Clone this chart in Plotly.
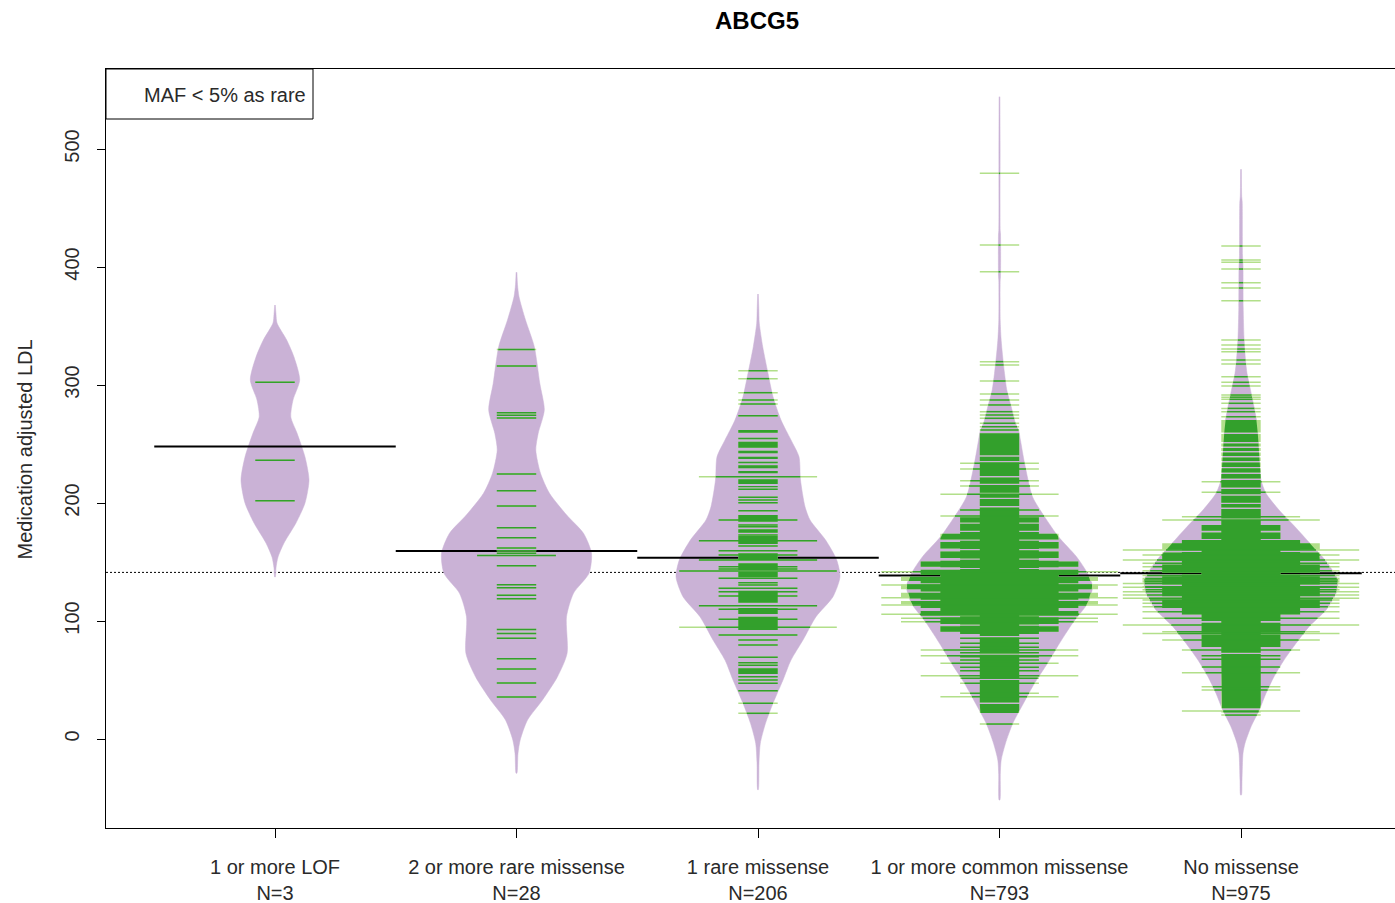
import numpy as np
import plotly.graph_objects as go

# ---------------- data ----------------
categories = ["1 or more LOF", "2 or more rare missense", "1 rare missense",
              "1 or more common missense", "No missense"]
group_sizes = [3, 28, 206, 793, 975]
avg_values = [248.0, 159.3, 153.7, 138.5, 140.5]
overall_average = 141.2
y_ticks = [0, 100, 200, 300, 400, 500]
legend_text = "MAF &lt; 5% as rare"
title_text = "ABCG5"
y_title = "Medication adjusted LDL"

# bean outlines: LDL value -> density (half width, px at chart scale)
g1_bean_y = [367.8, 360.0, 352.5, 338.1, 323.7, 304.2, 287.3, 272.9, 259.3, 239.0, 219.5, 200.0, 183.1, 166.1, 154.2, 145.0, 137.3]
g1_bean_d = [0.3, 1.0, 2.0, 11.7, 19.0, 24.7, 18.0, 15.8, 22.0, 30.0, 34.0, 30.0, 21.0, 9.0, 3.0, 1.0, 0.3]

g2_bean_y = [395.5, 385.0, 374.8, 355.1, 332.5, 301.4, 278.8, 259.1, 244.9, 225.2, 208.2, 190.0, 174.3, 157.4, 140.4, 123.5, 103.6, 72.6, 52.8, 33.1, 16.1, -0.8, -12.0, -29.0]
g2_bean_d = [0.4, 1.0, 2.5, 9.0, 17.8, 23.3, 27.8, 21.7, 19.3, 24.0, 33.0, 50.0, 67.0, 75.0, 72.5, 57.0, 50.0, 50.6, 41.0, 26.0, 11.0, 3.7, 1.5, 0.4]

g3_bean_y = [377.1, 365.0, 352.3, 332.5, 309.9, 290.1, 270.3, 253.4, 239.2, 219.5, 196.9, 185.6, 168.6, 151.7, 137.5, 120.6, 103.6, 83.9, 66.9, 50.0, 30.3, 13.3, -3.6, -20.0, -43.0]
g3_bean_d = [0.3, 0.8, 1.3, 4.7, 10.0, 15.0, 23.0, 33.0, 41.0, 42.5, 47.0, 52.0, 67.6, 78.7, 82.0, 75.0, 58.0, 45.0, 33.0, 25.0, 15.0, 7.5, 2.3, 1.0, 0.3]

g4_bean_y = [544.3, 500.0, 431.0, 428.0, 392.0, 389.0, 355.0, 340.0, 329.7, 309.9, 295.8, 281.6, 267.5, 262.0, 253.0, 234.0, 205.3, 188.4, 171.4, 154.5, 140.4, 129.1, 115.0, 98.1, 81.1, 64.2, 47.2, 30.3, 13.3, -3.6, -17.8, -30.0, -51.7]
g4_bean_d = [0.4, 0.6, 0.7, 1.0, 1.0, 0.7, 0.7, 1.5, 2.5, 5.0, 7.3, 11.7, 16.0, 19.0, 21.0, 25.0, 33.0, 45.0, 59.0, 77.0, 88.0, 93.0, 88.0, 73.0, 60.0, 48.0, 35.0, 24.0, 13.3, 6.0, 1.7, 0.8, 0.4]

g5_bean_y = [482.8, 460.0, 455.0, 410.0, 400.0, 366.0, 340.0, 321.2, 309.9, 295.8, 281.6, 267.5, 250.6, 236.4, 219.5, 208.2, 194.1, 179.9, 165.8, 151.7, 134.7, 123.5, 109.3, 95.2, 81.1, 66.9, 52.8, 38.7, 24.6, 10.4, -3.6, -12.1, -34.7, -47.5]
g5_bean_d = [0.4, 0.7, 1.2, 1.5, 2.0, 2.2, 3.0, 4.5, 6.0, 9.5, 13.0, 16.0, 17.5, 18.5, 20.0, 25.0, 38.0, 54.0, 69.0, 84.0, 96.7, 95.0, 85.0, 68.0, 55.0, 43.0, 33.0, 25.0, 18.3, 10.0, 4.0, 2.0, 1.0, 0.4]

# bean lines: count of identical observations -> values
g1_lines = {1: [302.3, 236.2, 202.0]}
g1_blocks = {}

g2_lines = {1: [330.2, 316.1, 276.5, 274.3, 272.0, 224.6, 210.4, 197.5, 179.1, 170.6, 161.9, 159.6, 157.4,
                146.9, 130.8, 128.2, 121.8, 118.9, 92.9, 89.5, 85.3, 68.1, 59.3, 47.5, 35.6],
            2: [155.6]}
g2_blocks = {}

g3_lines = {1: [312.1, 305.4, 293.5, 287.3, 283.9, 274.0, 211.6, 204.8, 202.5, 200.3, 193.5, 181.4, 179.9,
                172.9, 163.6, 132.5, 130.5, 83.9, 79.7, 69.2, 64.7, 62.5, 52.8, 50.0, 47.2, 40.9, 30.3, 21.8],
            2: [185.6, 159.6, 155.9, 146.0, 144.0, 136.2, 127.7, 124.8, 121.2, 109.9, 101.4, 88.1],
            3: [222.3, 168.1, 151.7, 113.0],
            4: [142.4, 94.7]}
# dense runs of bean lines (low value, high value) that merge into solid blocks
g3_blocks = {1: [(259.6, 261.9), (254.0, 255.4), (246.9, 252.0), (242.1, 244.3), (237.3, 239.2), (233.6, 235.0),
                 (229.4, 231.9), (225.2, 227.1), (216.1, 220.1), (213.3, 214.4), (184.2, 189.8), (174.8, 177.7),
                 (165.3, 172.0), (151.7, 157.4), (143.2, 148.9), (137.0, 141.8), (115.5, 125.7), (105.9, 111.0),
                 (92.4, 103.6), (55.1, 59.9)]}

g4_lines = {1: [479.4, 418.6, 396.0, 319.8, 317.0, 303.4, 292.4, 287.3, 283.1, 277.4, 274.6, 271.8, 267.5,
                264.7, 261.9, 12.7],
            2: [233.6, 228.8, 218.9, 214.4, 194.1, 85.3, 81.1, 77.7, 73.1, 69.7, 66.9, 60.8, 57.9, 51.4, 47.2, 38.7],
            3: [207.4, 189.0, 64.2, 35.8],
            4: [75.4, 70.6, 53.6],
            5: [102.3, 99.4],
            6: [141.8, 130.5, 119.7, 113.6, 105.7]}
g4_blocks = {1: [(240.4, 259.1), (235.6, 239.2), (222.9, 234.4), (216.4, 221.7), (208.8, 215.2), (204.5, 207.6),
                 (197.5, 203.3), (109.9, 196.3), (87.3, 108.7), (72.6, 86.1), (51.2, 71.4), (30.9, 50.0),
                 (22.0, 29.7)],
             2: [(183.5, 188.0), (176.5, 182.5), (169.0, 175.5), (161.0, 168.0), (153.0, 160.0), (145.0, 152.0),
                 (137.0, 144.0), (129.0, 136.0), (121.0, 128.0), (113.0, 120.0), (105.0, 112.0), (97.0, 104.0),
                 (89.0, 96.0)],
             3: [(169.0, 174.0), (161.5, 167.0), (153.5, 159.0), (145.5, 151.0), (137.5, 143.0), (129.5, 135.0),
                 (121.5, 127.0), (113.5, 119.0), (105.5, 111.0), (97.5, 103.0), (91.0, 95.5)],
             4: [(146.0, 150.5), (139.0, 143.5), (132.0, 136.5), (125.0, 129.5), (118.0, 122.5), (111.0, 115.5),
                 (104.5, 108.5)],
             5: [(134.0, 137.5), (127.0, 131.0), (120.0, 124.0), (114.0, 117.0)]}

g5_lines = {1: [417.8, 405.9, 404.0, 398.3, 386.7, 382.2, 371.4, 338.1, 333.9, 330.5, 328.2, 321.2, 317.8,
                307.0, 302.3, 299.2, 291.5, 289.7, 287.9, 284.5, 280.2, 277.4, 273.1, 23.1, 20.3],
            2: [218.1, 209.1, 70.5, 67.5, 61.0, 44.3, 41.5],
            3: [188.4, 75.4, 56.2, 23.7],
            4: [185.6, 90.9, 83.9],
            5: [156.0, 149.0, 146.0, 142.5, 138.5, 136.0, 134.7, 133.3, 129.1, 126.5, 117.8, 115.0, 112.0,
                107.9, 102.3, 89.5],
            6: [160.2, 151.7, 131.9, 128.6, 124.8, 122.0, 119.2, 96.6]}
g5_blocks = {1: [(259.7, 270.3), (251.7, 258.5), (247.8, 250.5), (244.1, 246.6), (239.8, 242.9), (235.6, 238.6),
                 (230.6, 234.4), (225.8, 229.4), (220.7, 224.6), (213.1, 219.5), (207.4, 211.9), (200.3, 206.2),
                 (196.1, 199.1), (186.8, 194.9), (73.2, 185.6), (26.0, 72.0)],
             2: [(176.5, 181.4), (169.5, 175.0), (150.0, 168.0), (120.0, 148.5), (100.0, 118.5), (90.0, 98.5),
                 (78.0, 88.5)],
             3: [(160.0, 168.6), (141.5, 158.5), (124.5, 139.5), (105.5, 122.5)],
             4: [(160.5, 166.0), (151.0, 158.0), (141.0, 148.0), (131.0, 138.0), (121.0, 128.0), (111.0, 118.0)]}

# ---------------- styling ----------------
BEAN_COL = "#CAB2D6"
LINE_IN = "#33A02C"
LINE_OUT = "#B2DF8A"
FONT = "Liberation Sans, Arial, sans-serif"
TXT = "#2a2a2a"
W, H = 1395, 903
ML, MR, MT, MB = 106, 0, 69, 75
PX_PER_UNIT = 241.5            # px per category step
BASE = 19.7 / PX_PER_UNIT      # half length of a bean line per observation
X_RANGE = [1 - 169 / PX_PER_UNIT, 1 + 1120 / PX_PER_UNIT]
Y_RANGE = [-75.4, 567.8]

bean_ys = [g1_bean_y, g2_bean_y, g3_bean_y, g4_bean_y, g5_bean_y]
bean_ds = [g1_bean_d, g2_bean_d, g3_bean_d, g4_bean_d, g5_bean_d]
lines_all = [g1_lines, g2_lines, g3_lines, g4_lines, g5_lines]
blocks_all = [g1_blocks, g2_blocks, g3_blocks, g4_blocks, g5_blocks]


def half_width(i, v):
    ys = np.asarray(bean_ys[i], float)
    ds = np.asarray(bean_ds[i], float)
    o = np.argsort(ys)
    return np.interp(v, ys[o], ds[o], left=0.0, right=0.0) / PX_PER_UNIT


fig = go.Figure()

# overall average (dotted)
fig.add_trace(go.Scatter(x=X_RANGE, y=[overall_average] * 2, mode="lines",
                         line=dict(color="black", width=1, dash="2px,2px"), hoverinfo="skip"))

# beans
for i in range(5):
    c = i + 1
    ys = np.asarray(bean_ys[i], float)
    ds = np.asarray(bean_ds[i], float) / PX_PER_UNIT
    xs = np.concatenate([c + ds, (c - ds)[::-1]])
    yy = np.concatenate([ys, ys[::-1]])
    fig.add_trace(go.Scatter(x=xs, y=yy, mode="lines", fill="toself", fillcolor=BEAN_COL,
                             line=dict(color=BEAN_COL, width=0.5, shape="spline", smoothing=0.7),
                             hoverinfo="skip"))

# group averages
for i in range(5):
    c = i + 1
    fig.add_trace(go.Scatter(x=[c - 0.5, c + 0.5], y=[avg_values[i]] * 2, mode="lines",
                             line=dict(color="black", width=2), hoverinfo="skip"))


def segments(clip):
    lx, ly = [], []
    for i in range(5):
        c = i + 1
        for cnt, vals in lines_all[i].items():
            for v in vals:
                h = cnt * BASE
                if clip:
                    h = min(h, half_width(i, v))
                lx += [c - h, c + h, None]
                ly += [v, v, None]
    return lx, ly


def block_polys(clip):
    px, py = [], []
    for i in range(5):
        c = i + 1
        for cnt, spans in blocks_all[i].items():
            for lo, hi in spans:
                yy = np.linspace(lo, hi, 30)
                h = np.full_like(yy, cnt * BASE)
                if clip:
                    h = np.minimum(h, half_width(i, yy))
                xs = np.concatenate([c + h, (c - h)[::-1]])
                ys = np.concatenate([yy, yy[::-1]])
                px += list(xs) + [None]
                py += list(ys) + [None]
    return px, py


for clip, col in [(False, LINE_OUT), (True, LINE_IN)]:
    bx, by = block_polys(clip)
    fig.add_trace(go.Scatter(x=bx, y=by, mode="lines", fill="toself", fillcolor=col,
                             line=dict(color=col, width=0), hoverinfo="skip"))
    lx, ly = segments(clip)
    fig.add_trace(go.Scatter(x=lx, y=ly, mode="lines", line=dict(color=col, width=1.5),
                             hoverinfo="skip"))

ticktext = [f"{c}<br>N={n}" for c, n in zip(categories, group_sizes)]

fig.update_layout(
    width=W, height=H, margin=dict(l=ML, r=MR, t=MT, b=MB),
    paper_bgcolor="white", plot_bgcolor="white", showlegend=False,
    font=dict(family=FONT, size=20, color=TXT),
    xaxis=dict(range=X_RANGE, tickvals=[1, 2, 3, 4, 5], ticktext=ticktext, showgrid=False,
               zeroline=False, showline=True, linecolor="black", linewidth=1, mirror=True,
               ticks="outside", ticklen=9, tickcolor="black", tickwidth=1,
               tickfont=dict(family=FONT, size=20, color=TXT), ticklabelstandoff=12),
    yaxis=dict(range=Y_RANGE, tickvals=y_ticks, showgrid=False, zeroline=False, showline=True,
               linecolor="black", linewidth=1, ticks="outside", ticklen=8, tickcolor="black",
               tickangle=-90, tickfont=dict(family=FONT, size=20, color=TXT), ticklabelstandoff=10),
)

plot_w = W - ML - MR
plot_h = H - MT - MB
fig.add_shape(type="rect", xref="paper", yref="paper", x0=0, x1=(313 - ML) / plot_w,
              y0=1 - (119 - MT) / plot_h, y1=1, line=dict(color="black", width=1), fillcolor="white",
              layer="above")
fig.add_annotation(text=legend_text, xref="paper", yref="paper", x=(142 - ML) / plot_w,
                   y=1 - (95 - MT) / plot_h, xanchor="left", yanchor="middle", showarrow=False,
                   font=dict(family=FONT, size=20, color=TXT))
fig.add_annotation(text=f"<b>{title_text}</b>", xref="paper", yref="paper", x=(757 - ML) / plot_w,
                   y=1 + (MT - 20) / plot_h, xanchor="center", yanchor="middle", showarrow=False,
                   font=dict(family=FONT, size=24, color="black"))
fig.add_annotation(text=y_title, xref="paper", yref="paper", x=(24 - ML) / plot_w,
                   y=(H - MB - 449.5) / plot_h, xanchor="center", yanchor="middle", textangle=-90,
                   showarrow=False, font=dict(family=FONT, size=20, color=TXT))

fig.write_html("out.html")
